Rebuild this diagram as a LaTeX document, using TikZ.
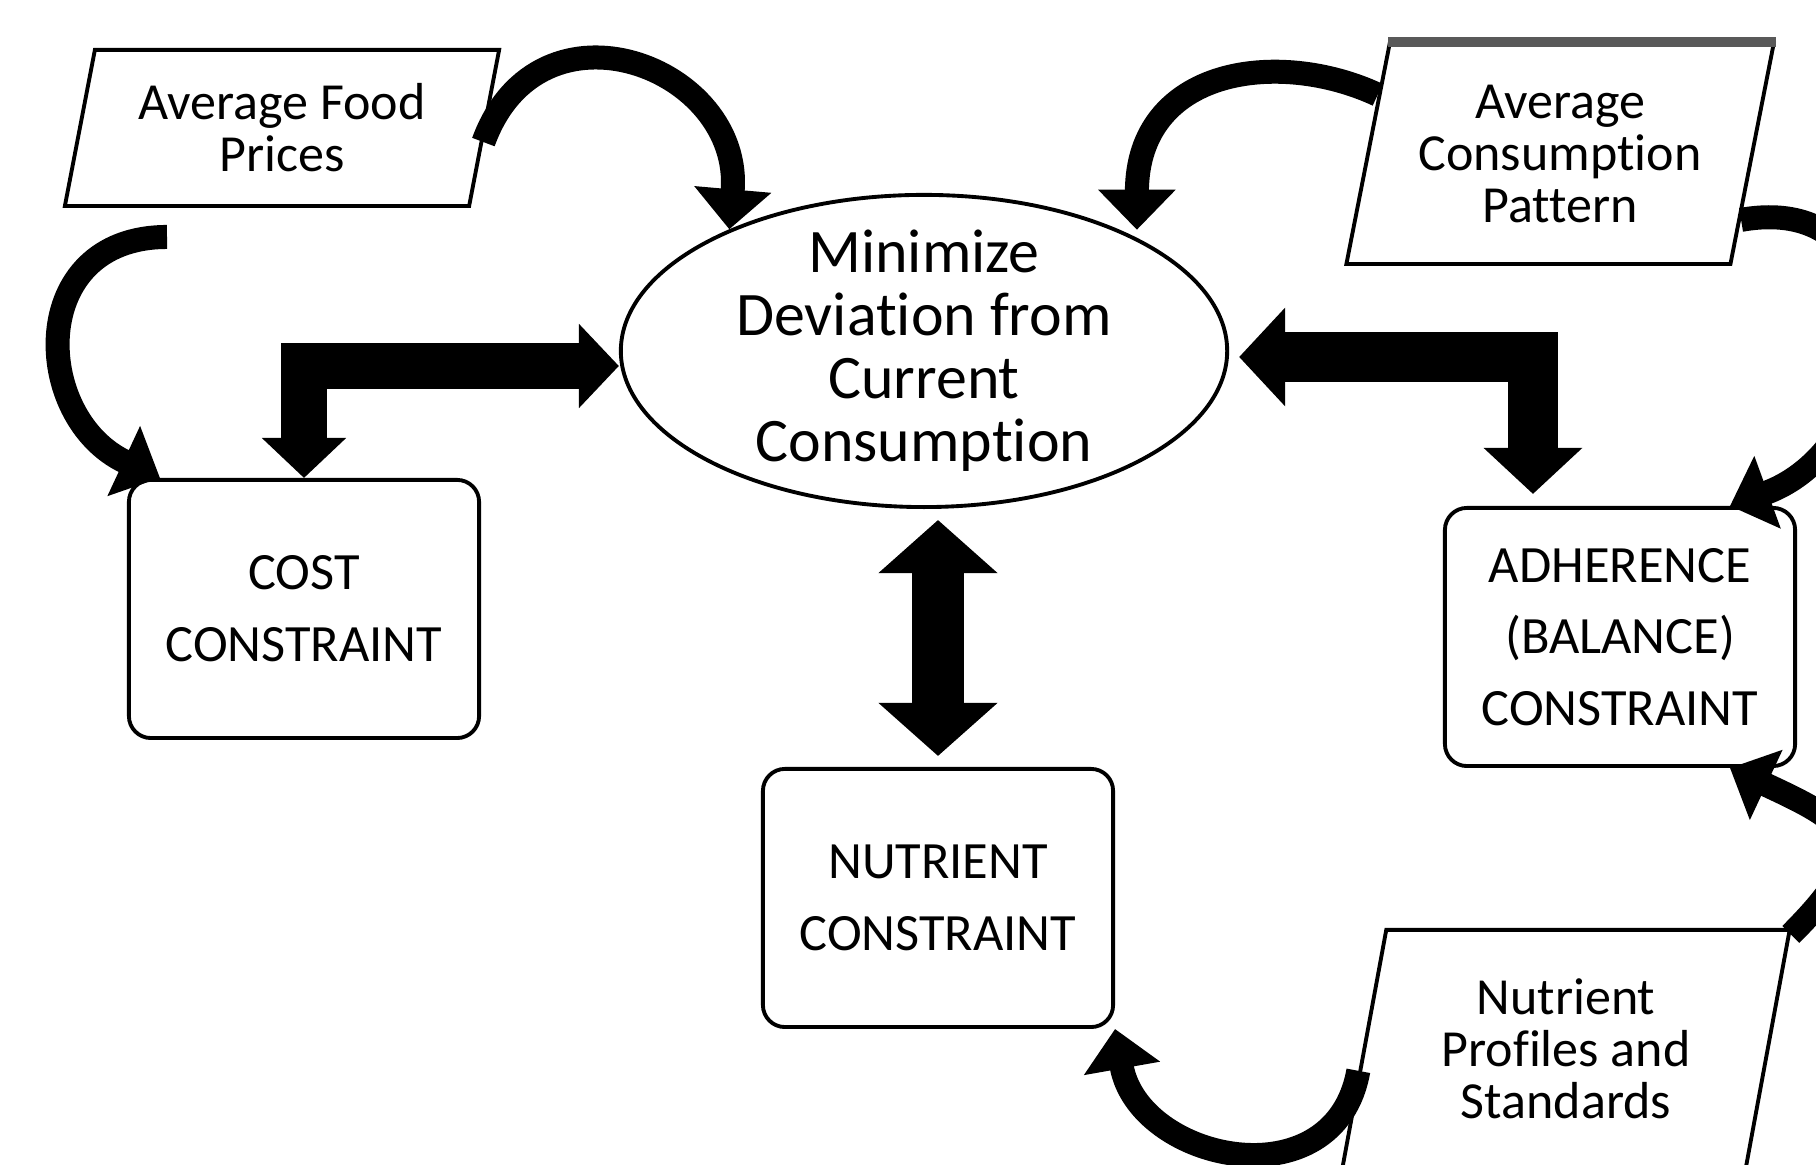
\documentclass[tikz,border=0pt]{standalone}
\usepackage{fontspec}
\setmainfont{Carlito}[Ligatures=NoCommon]
\usetikzlibrary{arrows.meta, shapes.geometric}

\tikzset{
    inputbox/.style={draw, trapezium, trapezium left angle=75, trapezium right angle=105,
        trapezium stretches body, line width=1.1pt, align=center,
        font=\fontsize{14.8}{14.8}\selectfont},
    conbox/.style={draw, rectangle, rounded corners=0.22cm, line width=1.1pt, align=center,
        minimum width=3.5cm, minimum height=2.58cm, font=\fontsize{14.9}{20.4}\selectfont},
    goal/.style={draw, ellipse, line width=1.1pt, minimum width=6.06cm, minimum height=3.12cm, inner sep=0pt},
    goaltext/.style={align=center, font=\fontsize{17.6}{17.9}\selectfont},
    curvy/.style={line width=0.24cm, arrows={-Triangle[length=0.4cm, width=0.75cm]}},
    blocky/.style={line width=0.46cm, arrows={Triangle[length=0.4cm, width=0.82cm]-Triangle[length=0.4cm, width=0.82cm]}}
}

\begin{document}
\begin{tikzpicture}[x=0.01cm, y=0.01cm]
    \useasboundingbox (0,0) rectangle (1816,1165);
    \clip (0,0) rectangle (1816,1165);

    % Nodes
    \node[goal] (min) at (924,814) {};
    \node[goaltext] (min text) at (min) {Minimize\\Deviation from\\Current\\Consumption};
    \node[inputbox, minimum width=4.34cm, minimum height=1.56cm] (afp) at (282,1037) {Average Food\\Prices};
    \node[inputbox, minimum width=4.27cm, minimum height=2.2cm] (acp) at (1560,1011) {Average\\Consumption\\Pattern};
    \node[inputbox, minimum width=4.47cm, minimum height=2.38cm] (nps) at (1566,116) {Nutrient\\Profiles and\\Standards};
    \node[conbox] (cost) at (304,556) {COST\\CONSTRAINT};
    \node[conbox] (nut) at (938,267) {NUTRIENT\\CONSTRAINT};
    \node[conbox] (adh) at (1620,528) {ADHERENCE\\(BALANCE)\\CONSTRAINT};
    \coordinate (afp tail) at (167,928);

    \draw[line width=2.6pt, black!65] (acp.top left corner) -- (acp.top right corner);

    % Connections
    \draw[curvy] (afp.-4) to[out=70, in=85, looseness=1.6] (min.148);
    \draw[curvy] (afp tail) to[out=180, in=155, looseness=1.5] ([xshift=0.33cm]cost.north west);
    \draw[curvy, shorten >=0.08cm] (acp.162) to[out=155, in=90, out looseness=1, in looseness=1.55] (min.28);
    \draw[curvy] (acp.-20) to[out=10, in=20, looseness=1.6] (adh.50);
    \draw[curvy] (nps.27) to[out=45, in=-25, looseness=1.9] (adh.-50);
    \draw[curvy] (nps.186) to[out=-100, in=-80, looseness=1.4] (nut.south east);

    \draw[blocky] ([yshift=-0.15cm]min.west) -| (cost.north);
    \draw[blocky, line width=0.5cm, arrows={Triangle[length=0.46cm, width=0.96cm]-Triangle[length=0.46cm, width=0.96cm]}]
        ([xshift=0.1cm, yshift=-0.06cm]min.east) -| ([xshift=-0.87cm, yshift=0.12cm]adh.north);
    \draw[blocky, line width=0.52cm, shorten <=0.11cm, shorten >=0.11cm,
        arrows={Triangle[length=0.53cm, width=1.16cm]-Triangle[length=0.53cm, width=1.16cm]}]
        (min.south -| nut.north) -- (nut.north);
\end{tikzpicture}
\end{document}
